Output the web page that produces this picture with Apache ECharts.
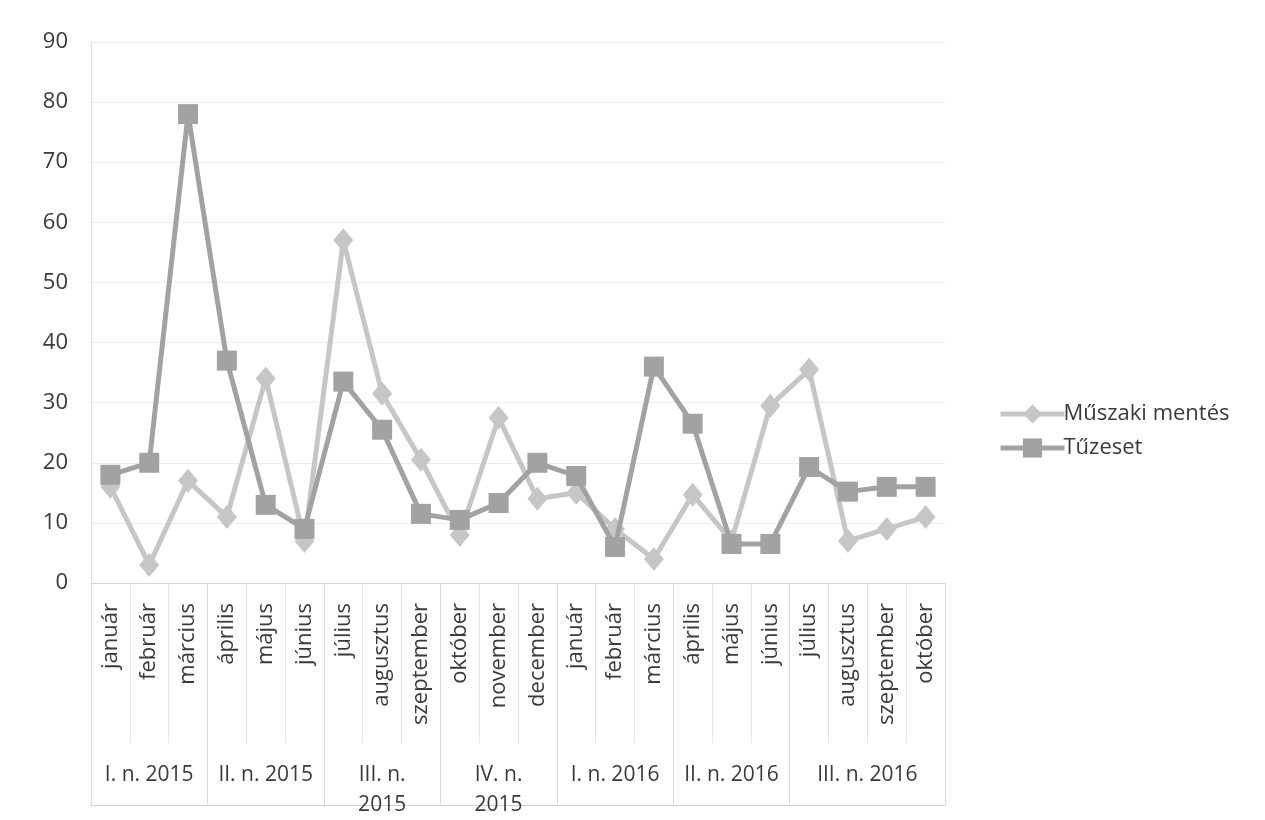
<!DOCTYPE html>
<html>
<head>
<meta charset="utf-8">
<script src="https://cdn.jsdelivr.net/npm/echarts@6/dist/echarts.min.js"></script>
<style>html,body{margin:0;padding:0;background:#fff;}#c{width:1265px;height:820px;}</style>
</head>
<body>
<div id="c"></div>
<script>
const months = ['január','február','március','április','május','június','július','augusztus','szeptember','október','november','december',
  'január','február','március','április','május','június','július','augusztus','szeptember','október'];
const muszakiMentes = [16, 3, 17, 11, 34, 7, 57, 31.5, 20.5, 8, 27.5, 14, 15, 9, 4, 14.7, 7, 29.5, 35.5, 7, 9, 11];
const tuzeset = [18, 20, 78, 37, 13, 9, 33.5, 25.5, 11.5, 10.5, 13.3, 20, 17.8, 6, 36, 26.5, 6.5, 6.5, 19.3, 15.2, 16, 16];
const groupNames = ['I. n. 2015','II. n. 2015','III. n.\n2015','IV. n.\n2015','I. n. 2016','II. n. 2016','III. n. 2016'];
const groupSizes = [3, 3, 3, 3, 3, 3, 4];
const yTicks = [0, 10, 20, 30, 40, 50, 60, 70, 80, 90];

const groupBounds = [0];
const groupCenters = [];
groupSizes.forEach(s => { const b = groupBounds[groupBounds.length - 1]; groupCenters.push(b + s / 2); groupBounds.push(b + s); });

const FONT = 'Open Sans';
const TXT = '#3a3a3a';
const chart = echarts.init(document.getElementById('c'), null, {renderer: 'canvas'});
chart.setOption({
  animation: false,
  backgroundColor: '#fff',
  textStyle: {fontFamily: FONT},
  grid: {left: 91, right: 320, top: 42, bottom: 237, containLabel: false},
  legend: {
    orient: 'vertical', left: 993, top: 398, itemGap: 12, itemWidth: 64, itemHeight: 24,
    lineStyle: {width: 5},
    textStyle: {fontFamily: FONT, fontSize: 22, color: TXT, padding: [0, 0, 0, -6]},
    data: ['Műszaki mentés', 'Tűzeset']
  },
  xAxis: [{
    type: 'category', data: months, boundaryGap: true,
    axisLine: {show: true, lineStyle: {color: '#d6d6d6', width: 1}},
    axisTick: {show: true, length: 160, lineStyle: {color: '#e6e6e6', width: 1}},
    axisLabel: {rotate: 90, interval: 0, margin: 20, fontFamily: FONT, fontSize: 22, color: TXT},
    splitLine: {show: false}
  }, {
    type: 'value', min: 0, max: 22, position: 'bottom', offset: 222,
    axisLine: {show: true, lineStyle: {color: '#d0d0d0', width: 1}},
    axisTick: {show: true, inside: true, length: 222, customValues: groupBounds, lineStyle: {color: '#dadada', width: 1}},
    axisLabel: {inside: true, margin: 45, verticalAlign: 'top', customValues: groupCenters, fontFamily: FONT, fontSize: 21, color: TXT, lineHeight: 30,
      formatter: v => { const i = groupCenters.findIndex(c => Math.abs(c - v) < 1e-6); return i >= 0 ? groupNames[i] : ''; }},
    splitLine: {show: false}
  }],
  yAxis: {
    type: 'value', min: 0, max: 90, interval: 10,
    axisLine: {show: true, lineStyle: {color: '#e0e0e0'}},
    axisTick: {show: false},
    axisLabel: {margin: 23, fontFamily: FONT, fontSize: 22, color: TXT,
      formatter: v => yTicks.includes(v) ? String(v) : ''},
    splitLine: {show: true, lineStyle: {color: '#ececec', width: 1}}
  },
  series: [{
    name: 'Műszaki mentés', type: 'line', data: muszakiMentes, xAxisIndex: 0,
    symbol: 'diamond', symbolSize: [20, 24],
    lineStyle: {color: '#c6c6c6', width: 5},
    itemStyle: {color: '#c6c6c6'}, z: 2
  }, {
    name: 'Tűzeset', type: 'line', data: tuzeset, xAxisIndex: 0,
    symbol: 'rect', symbolSize: 20,
    lineStyle: {color: '#a2a2a2', width: 5},
    itemStyle: {color: '#a2a2a2'}, z: 3
  }]
});
</script>
</body>
</html>
